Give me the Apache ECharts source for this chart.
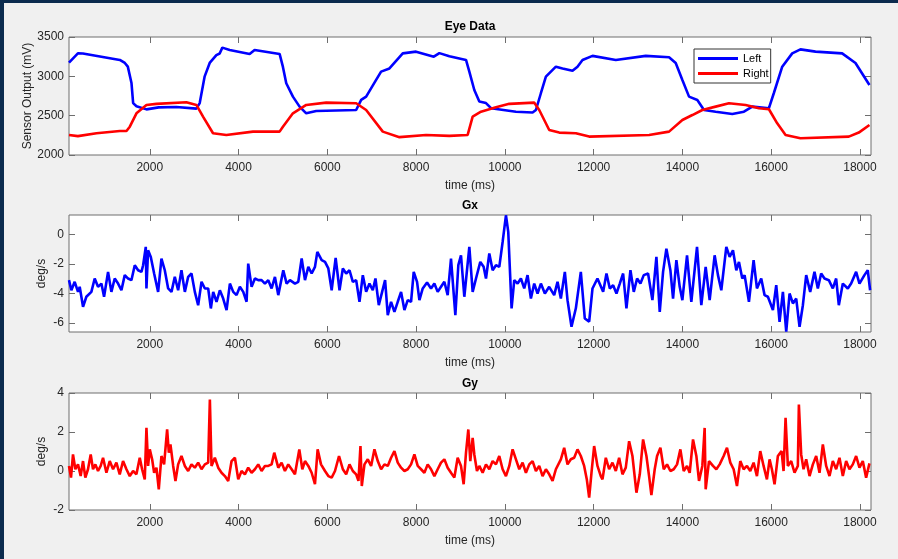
<!DOCTYPE html>
<html>
<head>
<meta charset="utf-8">
<script src="https://cdn.jsdelivr.net/npm/echarts@6/dist/echarts.min.js"></script>
<style>
  html, body { margin: 0; padding: 0; background: #0b2b4e; width: 898px; height: 559px; overflow: hidden; }
  #panel { position: absolute; left: 4px; top: 3px; width: 894px; height: 556px; background: #f0f0f0; }
  #chart { position: absolute; left: 0; top: 0; width: 898px; height: 559px; }
</style>
</head>
<body>
<div id="panel"></div>
<div id="chart"></div>
<script>
// ---------------- DATA ----------------
const timeTicks = [2000, 4000, 6000, 8000, 10000, 12000, 14000, 16000, 18000];
const gxTicks = [-6, -4, -2, 0];

const leftTime = [180,380,493,1325,1438,1505,1588,1625,1700,1925,2200,2600,3050,3125,3237,3350,3500,3575,3635,3800,4250,4362,4925,5000,5075,5225,5375,5525,5750,6650,6763,6875,7100,7212,7400,7700,8000,8400,8525,8750,9125,9200,9312,9425,9575,9688,10250,10625,10700,10812,10925,11150,11300,11525,11637,11750,11975,12500,13175,13700,13850,14000,14150,14337,14487,14750,15125,15387,15575,15950,16060,16250,16475,16660,17000,17600,17900,18215];
const leftValues = [3174,3292,3290,3208,3170,3123,2915,2660,2620,2580,2605,2610,2590,2660,3000,3170,3270,3290,3365,3335,3284,3335,3285,3120,2912,2742,2615,2530,2560,2572,2700,2742,2954,3060,3100,3292,3314,3250,3295,3255,3208,3060,2826,2680,2660,2595,2550,2540,2572,2785,2996,3123,3100,3070,3123,3208,3260,3208,3260,3243,3170,2954,2742,2700,2572,2550,2522,2550,2615,2595,2785,3123,3292,3343,3314,3292,3170,2890];

const rightTime = [180,380,800,1325,1475,1550,1700,1925,2150,2825,3050,3200,3425,3725,4325,4925,5000,5225,5525,5975,6650,6875,7250,7625,8225,8750,9162,9275,9462,9800,10100,10660,10775,11000,11225,11600,11900,13250,13700,14000,14225,14450,14750,15050,15425,15725,15950,16137,16325,16660,17750,17975,18215];
const rightValues = [2255,2240,2277,2306,2306,2360,2530,2636,2650,2670,2636,2488,2277,2255,2297,2297,2360,2530,2636,2666,2658,2572,2297,2227,2255,2243,2255,2488,2550,2606,2650,2666,2572,2318,2285,2277,2234,2255,2297,2445,2508,2572,2615,2658,2636,2595,2582,2403,2255,2213,2234,2285,2382];

const gxTime = [180,233,308,383,421,496,571,684,759,834,910,970,1060,1135,1210,1286,1361,1436,1511,1586,1662,1737,1812,1850,1910,1925,1962,2023,2098,2188,2263,2338,2414,2489,2564,2639,2714,2790,2865,2940,3015,3090,3166,3241,3316,3376,3429,3504,3579,3654,3730,3805,3880,3955,4030,4106,4181,4218,4294,4369,4444,4519,4594,4670,4745,4820,4895,5008,5083,5158,5271,5346,5422,5497,5572,5647,5722,5775,5873,5948,6023,6098,6188,6275,6350,6425,6500,6575,6650,6725,6800,6875,6950,7025,7085,7160,7235,7302,7362,7437,7512,7587,7662,7737,7812,7887,7947,8022,8075,8150,8247,8337,8412,8487,8562,8637,8712,8787,8885,8952,9012,9087,9200,9275,9350,9447,9522,9575,9650,9725,9800,9875,9950,10025,10077,10152,10212,10287,10362,10437,10512,10587,10662,10737,10812,10902,10999,11112,11187,11262,11352,11412,11502,11600,11712,11802,11900,11975,12087,12215,12290,12365,12440,12515,12590,12665,12740,12830,12905,12980,13055,13130,13227,13325,13415,13490,13565,13640,13730,13790,13865,13940,14000,14105,14202,14330,14427,14525,14615,14727,14802,14877,14990,15065,15140,15215,15275,15350,15402,15500,15605,15680,15777,15852,15927,16040,16115,16190,16265,16340,16415,16490,16565,16640,16715,16790,16880,16977,17052,17127,17202,17300,17390,17465,17525,17615,17727,17802,17915,17990,18102,18177,18230];
const gxValues = [-3.10,-3.78,-3.21,-3.89,-3.55,-4.90,-4.22,-3.89,-2.99,-3.55,-3.33,-4.22,-2.54,-3.89,-2.99,-3.33,-3.78,-2.76,-2.99,-3.10,-2.09,-2.43,-2.54,-2.09,-0.85,-3.66,-1.08,-1.53,-2.65,-3.89,-1.64,-2.43,-3.66,-3.89,-2.88,-3.78,-2.43,-3.89,-2.88,-2.65,-3.89,-4.79,-3.21,-3.66,-3.66,-5.01,-3.89,-4.56,-3.78,-4.34,-5.12,-3.33,-3.89,-4.11,-3.55,-3.89,-4.56,-1.98,-3.55,-2.99,-3.10,-3.10,-3.33,-3.10,-3.66,-2.88,-4.11,-2.43,-3.33,-3.10,-3.33,-3.21,-1.64,-3.10,-2.20,-2.65,-2.20,-1.19,-1.75,-1.87,-2.31,-3.78,-1.60,-3.78,-2.31,-2.65,-2.43,-3.21,-3.10,-4.56,-2.76,-3.89,-3.33,-3.78,-2.99,-4.79,-3.89,-3.10,-5.46,-4.56,-5.24,-4.56,-3.89,-5.12,-4.45,-4.56,-2.54,-3.21,-4.45,-3.66,-3.26,-3.66,-3.33,-3.89,-3.55,-3.21,-4.11,-1.64,-5.46,-2.09,-1.42,-4.22,-0.85,-3.89,-2.99,-1.87,-2.20,-2.99,-1.30,-2.43,-2.09,-2.20,-0.52,1.28,0.16,-5.01,-3.10,-3.33,-2.99,-3.66,-2.76,-4.34,-3.33,-4.00,-3.33,-4.00,-3.55,-4.11,-3.21,-4.34,-2.54,-4.45,-6.25,-5.00,-2.54,-5.69,-5.90,-3.66,-2.99,-3.89,-2.65,-3.66,-3.44,-4.00,-3.33,-2.65,-5.01,-2.43,-3.89,-2.99,-3.33,-2.76,-2.65,-4.45,-1.53,-5.24,-2.54,-0.97,-2.43,-4.34,-1.75,-3.55,-4.45,-1.42,-4.56,-0.85,-4.79,-2.20,-4.45,-1.42,-2.76,-3.78,-0.85,-1.53,-1.08,-2.43,-1.87,-2.99,-2.76,-4.56,-1.75,-3.66,-2.99,-4.11,-4.22,-5.12,-3.44,-5.91,-3.89,-6.58,-4.00,-4.67,-4.34,-6.25,-4.79,-2.76,-3.89,-2.54,-3.66,-2.65,-2.99,-3.10,-3.66,-2.99,-4.79,-3.33,-3.66,-3.33,-2.54,-3.33,-2.76,-2.43,-3.78];

const gyTime = [180,225,270,323,383,443,496,548,608,669,721,774,834,894,947,1023,1098,1173,1248,1323,1398,1474,1549,1624,1699,1774,1827,1887,1925,1962,2000,2053,2098,2150,2203,2263,2323,2391,2429,2466,2527,2579,2639,2714,2790,2865,2940,3015,3090,3166,3241,3316,3354,3391,3466,3542,3617,3692,3767,3843,3918,3993,4068,4143,4218,4294,4369,4444,4519,4594,4670,4745,4805,4895,4970,5045,5120,5196,5271,5369,5437,5497,5572,5647,5722,5782,5858,5948,6023,6098,6173,6264,6275,6350,6425,6500,6575,6650,6702,6747,6777,6837,6912,6987,7062,7137,7212,7287,7362,7437,7512,7587,7662,7737,7812,7887,7962,8037,8112,8187,8262,8337,8412,8487,8562,8637,8712,8787,8862,8937,9012,9072,9125,9177,9222,9275,9312,9372,9425,9500,9575,9650,9725,9800,9875,9950,10025,10100,10175,10250,10325,10400,10475,10550,10625,10700,10775,10850,10925,11000,11075,11150,11262,11337,11412,11487,11562,11637,11712,11787,11847,11900,11952,12012,12087,12162,12200,12275,12350,12425,12500,12575,12650,12725,12800,12875,12965,13040,13115,13190,13250,13302,13377,13430,13505,13580,13655,13730,13805,13880,13955,14030,14105,14165,14240,14315,14375,14450,14502,14525,14600,14690,14765,14840,14930,15005,15080,15155,15230,15305,15380,15455,15530,15605,15680,15755,15830,15905,15965,16017,16077,16152,16235,16280,16325,16377,16452,16527,16602,16625,16677,16730,16790,16865,16940,17015,17090,17165,17240,17315,17390,17465,17540,17615,17690,17765,17840,17915,17990,18065,18140,18215];
const gyValues = [0.26,-0.34,0.85,0.09,0.34,-0.26,0.51,-0.34,0.09,0.85,0.09,0.34,0.00,0.26,0.68,-0.09,0.51,0.09,0.43,-0.17,0.51,0.09,-0.26,0.00,-0.17,0.68,0.09,-0.43,2.21,0.26,1.11,0.60,-0.09,0.17,-0.94,0.77,0.34,2.13,0.94,1.36,0.26,-0.51,0.34,0.77,0.26,0.00,0.34,0.17,0.43,0.09,0.34,0.43,3.66,0.26,0.68,0.17,-0.09,-0.26,-0.51,0.51,0.68,-0.43,0.00,-0.17,0.17,-0.09,0.09,0.34,0.00,0.26,0.26,0.34,0.94,0.17,0.43,0.00,0.34,0.09,-0.17,1.11,0.09,0.51,0.26,-0.09,-0.68,1.11,0.34,0.00,-0.26,-0.34,0.00,0.77,0.85,0.09,-0.17,0.34,0.00,-0.17,-0.51,1.28,-0.77,0.34,0.60,0.26,1.11,0.51,0.09,0.34,0.26,0.68,1.02,0.43,0.17,0.00,0.09,0.34,0.85,0.26,0.09,-0.09,0.34,0.09,-0.26,0.09,0.43,0.60,0.17,-0.09,-0.34,0.68,0.26,-0.68,0.94,2.13,0.51,1.70,0.85,0.00,0.26,-0.09,0.34,0.09,0.51,0.34,0.77,0.09,-0.26,0.26,1.11,0.60,0.09,0.43,-0.09,0.34,0.51,0.00,0.26,-0.26,0.09,-0.17,-0.51,0.09,0.60,1.19,0.34,0.60,0.68,1.11,0.77,0.26,-0.43,-1.36,-0.09,1.28,0.26,-0.26,-0.43,0.68,0.09,0.43,0.00,0.68,-0.17,0.17,1.53,0.77,-1.11,-0.17,1.62,0.77,-0.26,-1.24,0.09,0.77,1.19,0.09,0.34,0.00,0.09,0.34,1.11,0.00,0.26,-0.09,1.62,0.77,-0.51,0.26,2.21,-0.94,0.51,0.26,0.09,0.34,0.77,1.19,0.43,0.09,-0.77,0.51,0.09,0.26,0.00,0.43,-0.26,1.02,0.26,-0.43,0.60,0.09,-0.68,0.77,1.02,0.00,2.73,0.26,0.51,-0.09,0.26,3.41,0.85,0.09,0.60,-0.26,0.34,0.77,-0.09,1.36,0.26,-0.26,0.51,0.09,0.68,-0.26,0.51,0.09,0.34,0.77,0.17,0.51,-0.34,0.39];

// ---------------- CHART ----------------
const zip = (t, v) => t.map((x, i) => [x, v[i]]);
const FONT = "'Liberation Sans', Arial, Helvetica, sans-serif";
const AX = '#262626';
const BOX = '#6e6e6e';
const X_MIN = 180, X_MAX = 18250;
const plain = v => String(v);

const grids = [
  { left: 69, right: 27, top: 37, height: 118 },
  { left: 69, right: 27, top: 215, height: 117 },
  { left: 69, right: 27, top: 393, height: 117 }
].map(g => Object.assign(g, { show: true, backgroundColor: '#ffffff', borderColor: BOX, borderWidth: 1 }));

const xAxes = [];
const yAxes = [];
const yConf = [
  { min: 2000, max: 3500, interval: 500, name: 'Sensor Output (mV)', gap: 35 },
  { min: -6.6, max: 1.3, custom: gxTicks, name: 'deg/s', gap: 21 },
  { min: -2, max: 4, interval: 2, name: 'deg/s', gap: 21 }
];
for (let i = 0; i < 3; i++) {
  xAxes.push({
    type: 'value', gridIndex: i, min: X_MIN, max: X_MAX, position: 'bottom',
    name: 'time (ms)', nameLocation: 'middle', nameGap: 25, nameMoveOverlap: false,
    nameTextStyle: { color: AX, fontSize: 12, fontFamily: FONT },
    axisLine: { show: false, onZero: false },
    axisTick: { show: true, inside: true, length: 6, lineStyle: { color: BOX }, customValues: timeTicks },
    axisLabel: { show: true, color: AX, fontSize: 12, fontFamily: FONT, margin: 7, customValues: timeTicks, formatter: plain },
    splitLine: { show: false }
  });
  xAxes.push({
    type: 'value', gridIndex: i, min: X_MIN, max: X_MAX, position: 'top',
    axisLine: { show: false, onZero: false },
    axisTick: { show: true, inside: true, length: 6, lineStyle: { color: BOX }, customValues: timeTicks },
    axisLabel: { show: false },
    splitLine: { show: false }
  });
  const c = yConf[i];
  const yBase = {
    type: 'value', gridIndex: i, min: c.min, max: c.max,
    splitLine: { show: false }
  };
  if (c.interval) yBase.interval = c.interval;
  const tick = { show: true, inside: true, length: 6, lineStyle: { color: BOX } };
  const lab = { show: true, color: AX, fontSize: 12, fontFamily: FONT, margin: 5, formatter: plain };
  if (c.custom) { tick.customValues = c.custom; lab.customValues = c.custom; }
  yAxes.push(Object.assign({}, yBase, {
    position: 'left', name: c.name, nameLocation: 'middle', nameGap: c.gap, nameMoveOverlap: false,
    nameTextStyle: { color: AX, fontSize: 12, fontFamily: FONT },
    axisLine: { show: false, onZero: false },
    axisTick: tick, axisLabel: lab
  }));
  yAxes.push(Object.assign({}, yBase, {
    position: 'right', axisLine: { show: false, onZero: false },
    axisTick: tick, axisLabel: { show: false }
  }));
}

const lineSeries = (name, data, color, gi) => ({
  name, type: 'line', data, xAxisIndex: gi * 2, yAxisIndex: gi * 2,
  symbol: 'none', showSymbol: false, smooth: false,
  lineStyle: { color, width: 2.6 }, itemStyle: { color },
  emphasis: { disabled: true }, silent: true, animation: false
});

const titleText = (txt, y) => ({
  type: 'text', x: 470, y,
  style: { text: txt, fill: '#000', font: "bold 12px " + FONT, textAlign: 'center', textVerticalAlign: 'middle' }
});

const chart = echarts.init(document.getElementById('chart'), null, { renderer: 'canvas' });
chart.setOption({
  backgroundColor: 'transparent',
  animation: false,
  textStyle: { fontFamily: FONT },
  grid: grids,
  xAxis: xAxes,
  yAxis: yAxes,
  legend: {
    data: ['Left', 'Right'], orient: 'vertical', left: 694, top: 49,
    icon: 'rect', itemWidth: 40, itemHeight: 3, itemGap: 2,
    padding: [3, 2, 3, 4], borderColor: '#333', borderWidth: 1, backgroundColor: '#fff',
    textStyle: { color: '#000', fontSize: 11, fontFamily: FONT, lineHeight: 13 }, selectedMode: false
  },
  graphic: [titleText('Eye Data', 27), titleText('Gx', 206), titleText('Gy', 384)],
  series: [
    lineSeries('Left', zip(leftTime, leftValues), '#0000ff', 0),
    lineSeries('Right', zip(rightTime, rightValues), '#ff0000', 0),
    lineSeries('Gx', zip(gxTime, gxValues), '#0000ff', 1),
    lineSeries('Gy', zip(gyTime, gyValues), '#ff0000', 2)
  ]
});
</script>
</body>
</html>
